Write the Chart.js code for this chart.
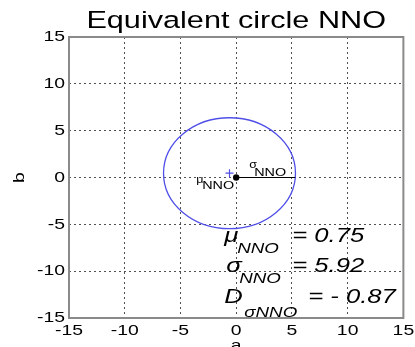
<!DOCTYPE html>
<html><head><meta charset="utf-8">
<script src="https://cdn.jsdelivr.net/npm/chart.js@4"></script>
<style>html,body{margin:0;padding:0;background:#fff;overflow:hidden;width:415px;height:347px}</style>
</head><body>
<canvas id="c" width="415" height="360" style="display:block"></canvas>
<script>
// ---- data ----
const chartTitle = 'Equivalent circle NNO';
const xLabel = 'a';
const yLabel = 'b';
const xTicks = [-15, -10, -5, 0, 5, 10, 15];
const yTicks = [-15, -10, -5, 0, 5, 10, 15];
const circleCenter = [-0.6, 0.46];
const circleRadius = [5.92];
const sigmaLineX = [0, 5.3];
const sigmaLineY = [0, 0];
const originX = [0];
const originY = [0];
const meanX = [-0.6];
const meanY = [0.46];
const statSymbols = ['μ', 'σ', 'D'];
const statSubs = ['NNO', 'NNO', 'σNNO'];
const statValues = [0.75, 5.92, -0.87];
const pointLabelSyms = ['μ', 'σ'];
const pointLabelSubs = ['NNO', 'NNO'];

// ---- horizontal text stretch (source image is stretched) ----
const SX = 1.25;
const canvas = document.getElementById('c');
const ctx0 = canvas.getContext('2d');
const origFill = ctx0.fillText.bind(ctx0);
ctx0.fillText = function (t, x, y, mw) {
  this.save();
  this.translate(x, y);
  this.scale(SX, 1);
  if (mw === undefined || mw === null) origFill(t, 0, 0);
  else origFill(t, 0, 0, mw / SX);
  this.restore();
};

const FAM = "'Liberation Sans', Arial, sans-serif";
Chart.defaults.font.family = FAM;
Chart.defaults.color = '#000';

const toPts = (xs, ys) => xs.map((v, i) => ({ x: v, y: ys[i] }));

const overlay = {
  id: 'overlay',
  beforeDatasetsDraw(chart) {
    const { ctx, scales: { x, y } } = chart;
    const cx = x.getPixelForValue(circleCenter[0]);
    const cy = y.getPixelForValue(circleCenter[1]);
    const rx = Math.abs(x.getPixelForValue(circleCenter[0] + circleRadius[0]) - cx);
    const ry = Math.abs(y.getPixelForValue(circleCenter[1] + circleRadius[0]) - cy);
    ctx.save();
    ctx.beginPath();
    ctx.ellipse(cx, cy, rx, ry, 0, 0, Math.PI * 2);
    ctx.strokeStyle = '#4f4fe8';
    ctx.lineWidth = 1.3;
    ctx.stroke();
    ctx.restore();
  },
  afterDraw(chart) {
    const { ctx, chartArea: a, scales: { x, y } } = chart;
    ctx.save();
    // axes box
    ctx.strokeStyle = '#8a8a8a';
    ctx.lineWidth = 2;
    ctx.strokeRect(a.left, a.top, a.right - a.left, a.bottom - a.top);
    ctx.fillStyle = '#000';
    ctx.textAlign = 'left';
    ctx.textBaseline = 'alphabetic';
    const T = (s, px, py, font) => { ctx.font = font; ctx.fillText(s, px, py); };
    // labels at origin
    const ox = x.getPixelForValue(0), oy = y.getPixelForValue(0);
    T(pointLabelSyms[0], ox - 40, oy + 5, `10px ${FAM}`);
    T(pointLabelSubs[0], ox - 34, oy + 11, `11.5px ${FAM}`);
    T(pointLabelSyms[1], ox + 13, oy - 10, `10px ${FAM}`);
    T(pointLabelSubs[1], ox + 18, oy - 2, `11.5px ${FAM}`);
    // statistics block
    const X0 = x.getPixelForValue(-1.07);
    const B = y.getPixelForValue(-6.9);
    const big = `italic 20.5px ${FAM}`, sub = `italic 15px ${FAM}`;
    const fmt = v => v < 0 ? '= - ' + Math.abs(v).toFixed(2) : '= ' + v.toFixed(2);
    const lay = [
      { s: 0, sb: [13, 11], v: 68, dy: 0 },
      { s: 2, sb: [15, 11], v: 68, dy: 30 },
      { s: 0, sb: [20, 14], v: 84, dy: 61 }
    ];
    statSymbols.forEach((sym, i) => {
      const L = lay[i];
      T(sym, X0 + L.s, B + L.dy, big);
      T(statSubs[i], X0 + L.sb[0], B + L.dy + L.sb[1], sub);
      T(fmt(statValues[i]), X0 + L.v, B + L.dy, big);
    });
    ctx.restore();
  }
};

new Chart(canvas, {
  type: 'scatter',
  data: {
    datasets: [
      {
        data: toPts(sigmaLineX, sigmaLineY), showLine: true, borderColor: '#000',
        borderWidth: 1, pointRadius: 0, fill: false
      },
      {
        data: toPts(meanX, meanY), pointStyle: 'cross', pointRadius: 4,
        borderColor: '#4f4fe8', borderWidth: 1.2, backgroundColor: '#4f4fe8'
      },
      {
        data: toPts(originX, originY), pointStyle: 'circle', pointRadius: 3.2,
        backgroundColor: '#000', borderColor: '#000', borderWidth: 0
      }
    ]
  },
  options: {
    responsive: false,
    animation: false,
    devicePixelRatio: 1,
    layout: { padding: { left: 0, right: 10, top: 0, bottom: 0 } },
    plugins: {
      legend: { display: false },
      tooltip: { enabled: false },
      title: {
        display: true, text: chartTitle, fullSize: false, color: '#000',
        font: { size: 24.5, weight: 'normal', family: FAM, lineHeight: 1.2 },
        padding: { top: 6.3, bottom: 1.3 }
      }
    },
    scales: {
      x: {
        type: 'linear', min: xTicks[0], max: xTicks[xTicks.length - 1],
        afterBuildTicks: s => { s.ticks = xTicks.map(v => ({ value: v })); },
        afterFit: s => { s.height = 42; },
        ticks: { padding: 3, maxRotation: 0, autoSkip: false, color: '#000',
          font: { size: 15.5, family: FAM, lineHeight: 1.2 } },
        grid: { color: '#505050', lineWidth: 1, drawTicks: false },
        border: { display: false, dash: [2, 3] },
        title: { display: true, text: xLabel, color: '#000',
          font: { size: 15.5, family: FAM, lineHeight: 1.2 }, padding: { top: 0, bottom: 5.1 } }
      },
      y: {
        type: 'linear', min: yTicks[0], max: yTicks[yTicks.length - 1],
        afterBuildTicks: s => { s.ticks = yTicks.map(v => ({ value: v })); },
        afterFit: s => { s.width = 69; },
        ticks: { padding: 4, autoSkip: false, color: '#000',
          font: { size: 15.5, family: FAM, lineHeight: 1.2 } },
        grid: { color: '#505050', lineWidth: 1, drawTicks: false },
        border: { display: false, dash: [2, 3] },
        title: { display: true, text: yLabel, color: '#000',
          font: { size: 15.5, family: FAM, lineHeight: 1.2 }, padding: { top: 10.7, bottom: 0 } }
      }
    }
  },
  plugins: [overlay]
});
</script>
</body></html>
